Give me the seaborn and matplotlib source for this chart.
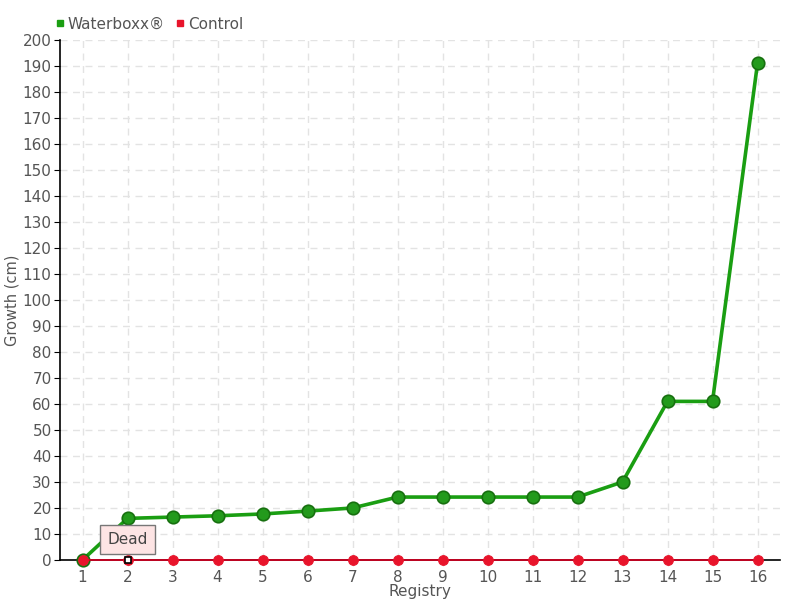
import matplotlib
matplotlib.use("Agg")
import matplotlib.pyplot as plt
import seaborn as sns
import pandas as pd
from matplotlib.lines import Line2D

registry = list(range(1, 17))
waterboxx = [0, 16, 16.5, 17, 17.7, 18.8, 20, 24.2, 24.2, 24.2, 24.2, 24.2, 30, 61, 61, 191]
control = [0] * 16
y_ticks = list(range(0, 201, 10))

sns.set_style("white")
plt.rcParams['font.family'] = ['Liberation Sans Narrow', 'DejaVu Sans']

df = pd.DataFrame({"Registry": registry, "Waterboxx": waterboxx, "Control": control})

fig = plt.figure(figsize=(8, 6), dpi=100)
ax = fig.add_axes([0.075, 0.0667, 0.9, 0.8666])

green = "#1a9e12"
red = "#e8142b"

sns.lineplot(data=df, x="Registry", y="Waterboxx", ax=ax, color=green, linewidth=2.6,
             marker="o", markersize=9, markerfacecolor="#239a1c", markeredgecolor="#17700f",
             markeredgewidth=1.2, zorder=4, clip_on=False)
sns.lineplot(data=df, x="Registry", y="Control", ax=ax, color="#cc0022", linewidth=1.3,
             marker="o", markersize=7, markerfacecolor=red, markeredgecolor=red, zorder=5,
             clip_on=False)

# highlighted control point with tooltip
ax.plot([registry[1]], [control[1]], marker="s", markersize=5, markerfacecolor="white",
        markeredgecolor="black", markeredgewidth=1.2, zorder=6, linestyle="none", clip_on=False)
ax.annotate("Dead", xy=(registry[1], control[1]), xytext=(registry[1], 8),
            ha="center", va="center", fontsize=11, color="#444444",
            bbox=dict(boxstyle="square,pad=0.45", facecolor="#fde4e4", edgecolor="#777777", lw=1),
            zorder=7)

ax.set_xlim(0.5, 16.5)
ax.set_ylim(0, 200)
ax.set_xticks(registry)
ax.set_xticklabels([str(r) for r in registry])
ax.set_yticks(y_ticks)
ax.set_yticklabels([str(t) for t in y_ticks])
ax.tick_params(axis="both", labelsize=11, colors="#555555", length=4, direction="out")
ax.tick_params(axis="y", left=True, color="black", pad=2)
ax.tick_params(axis="x", bottom=True, color="#dddddd")

ax.grid(True, linestyle=(0, (5, 4)), color="#e3e3e3", linewidth=1)
ax.set_axisbelow(True)
for s in ["top", "right"]:
    ax.spines[s].set_visible(False)
ax.spines["left"].set_color("black")
ax.spines["bottom"].set_color("black")
ax.spines["left"].set_linewidth(1.2)
ax.spines["bottom"].set_linewidth(1.2)

ax.set_xlabel("Registry", fontsize=11, color="#555555", labelpad=-1)
ax.set_ylabel("Growth (cm)", fontsize=10.5, color="#555555", labelpad=2)

handles = [Line2D([], [], marker="s", color=green, linestyle="none", markersize=5),
           Line2D([], [], marker="s", color=red, linestyle="none", markersize=5)]
fig.legend(handles, ["Waterboxx®", "Control"], loc="upper left", bbox_to_anchor=(0.05, 0.995),
           ncol=2, frameon=False, fontsize=11, handletextpad=0.1, columnspacing=0.6,
           labelcolor="#555555", handlelength=0.8)

fig.savefig("out.png", dpi=100)
